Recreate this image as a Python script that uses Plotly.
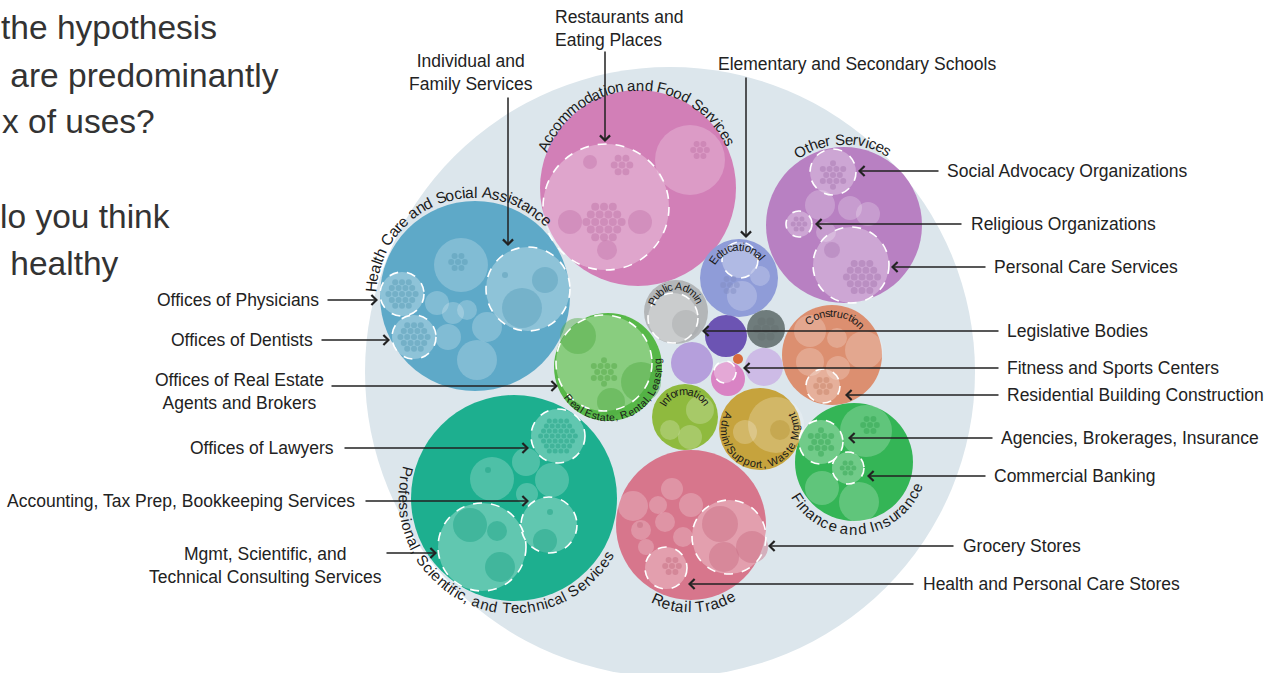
import math
import plotly.graph_objects as go

# ---------------- data ----------------
sector_names = ["Accommodation and Food Services", "Health Care and Social Assistance",
                "Professional, Scientific, and Technical Services", "Retail Trade",
                "Finance and Insurance", "Other Services", "Construction",
                "Real Estate, Rental, Leasing", "Public Admin", "Educational",
                "Manufacturing", "Utilities", "Arts, Entertainment", "Arts and Recreation",
                "Mining", "Wholesale", "Information", "Admin/Support, Waste Mgmt"]
sector_size = [98, 95, 103, 75, 59, 78, 50, 54, 32, 39, 21, 19, 21, 17, 5, 19, 33, 41]
sector_colors = ["#d27fb7", "#5ea9c8", "#1daf8f", "#d7768c", "#34b556", "#b880c2", "#dc8f70",
                 "#57b848", "#b3b6b8", "#8f9cd8", "#6c54b3", "#6f7c7c", "#b59fdc", "#d983c4",
                 "#d86a3c", "#cdbbe6", "#8fba3e", "#c6a33d"]
# layout (packing positions, px)
sector_cx = [638, 475, 514, 691, 854, 844, 832, 608, 676, 739, 726, 766, 692, 728, 738, 764, 685, 760]
sector_cy = [188, 296, 498, 525, 462, 225, 355, 367, 312, 278, 336, 329, 363, 379, 359, 367, 417, 429]

# highlighted sub-industries (dashed circles) : name, size
sub_names = ["Restaurants and Eating Places", "Individual and Family Services",
             "Offices of Physicians", "Offices of Dentists", "Offices of Real Estate Agents and Brokers",
             "Offices of Lawyers", "Accounting, Tax Prep, Bookkeeping Services",
             "Mgmt, Scientific, and Technical Consulting Services", "Elementary and Secondary Schools",
             "Social Advocacy Organizations", "Religious Organizations", "Personal Care Services",
             "Legislative Bodies", "Fitness and Sports Centers", "Residential Building Construction",
             "Agencies, Brokerages, Insurance", "Commercial Banking", "Grocery Stores",
             "Health and Personal Care Stores"]
sub_size = [63, 42, 22, 22, 48, 27, 28, 44, 18, 23, 13, 38, 25, 11, 17, 22, 16, 37, 21]
sub_cx = [606, 528, 402, 414, 604, 558, 549, 482, 740, 833, 799, 851, 673, 725, 823, 821, 848, 729, 666]
sub_cy = [207, 289, 294, 337, 363, 436, 525, 547, 260, 172, 224, 265, 318, 372, 386, 442, 468, 537, 568]

# other (non-highlighted) sub-industries : cx, cy, size
other_sub = [(690, 160, 35), (461, 265, 27), (437, 303, 12), (453, 313, 11), (467, 310, 10),
             (487, 327, 15), (477, 360, 20), (448, 337, 13), (492, 479, 22), (526, 462, 14),
             (552, 480, 17), (527, 494, 11), (820, 205, 15), (850, 208, 12), (868, 214, 12),
             (826, 232, 10), (864, 350, 19), (810, 331, 16), (810, 362, 14), (838, 368, 12),
             (837, 338, 10), (866, 431, 26), (822, 488, 17), (859, 502, 20), (633, 506, 15),
             (672, 489, 11), (658, 505, 9), (691, 505, 12), (641, 530, 10), (665, 522, 10),
             (683, 537, 10), (646, 547, 8), (742, 296, 15), (760, 276, 10), (700, 410, 14),
             (670, 430, 10), (690, 437, 12), (776, 425, 28), (745, 432, 12)]

# leader labels: text, text x, text y, anchor, arrow tail (x,y), arrow tip (x,y)
callouts = [
    ("Restaurants and<br>Eating Places", 553, 28, "left", (605, 50), (605, 142)),
    ("Individual and<br>Family Services", 471, 72, "center", (508, 96), (508, 246)),
    ("Elementary and Secondary Schools", 716, 64, "left", (746, 76), (746, 238)),
    ("Offices of Physicians", 321, 300, "right", (326, 300), (378, 300)),
    ("Offices of Dentists", 315, 340, "right", (320, 340), (390, 340)),
    ("Offices of Real Estate<br>Agents and Brokers", 239, 391, "center", (330, 386), (558, 386)),
    ("Offices of Lawyers", 336, 448, "right", (343, 448), (529, 448)),
    ("Accounting, Tax Prep, Bookkeeping Services", 357, 501, "right", (364, 501), (529, 501)),
    ("Mgmt, Scientific, and<br>Technical Consulting Services", 265, 565, "center", (385, 553), (437, 553)),
    ("Social Advocacy Organizations", 945, 171, "left", (940, 171), (858, 171)),
    ("Religious Organizations", 969, 224, "left", (963, 224), (815, 224)),
    ("Personal Care Services", 992, 267, "left", (987, 267), (891, 267)),
    ("Legislative Bodies", 1005, 331, "left", (1000, 331), (702, 331)),
    ("Fitness and Sports Centers", 1005, 368, "left", (1000, 368), (743, 368)),
    ("Residential Building Construction", 1005, 395, "left", (1000, 395), (845, 395)),
    ("Agencies, Brokerages, Insurance", 999, 438, "left", (994, 438), (848, 438)),
    ("Commercial Banking", 992, 476, "left", (987, 476), (867, 476)),
    ("Grocery Stores", 961, 546, "left", (955, 546), (768, 546)),
    ("Health and Personal Care Stores", 921, 584, "left", (915, 584), (688, 584)),
]

# curved sector labels: text, sector index, radius, mid angle, font size, mode
arc_labels = [
    ("Health Care and Social Assistance", 1, 104, 111, 15.5, "top"),
    ("Accommodation and Food Services", 0, 103, 92, 15, "top"),
    ("Other Services", 5, 86, 91, 15, "top"),
    ("Professional, Scientific, and Technical Services", 2, 110, 247, 15, "bottom"),
    ("Retail Trade", 3, 82, 272, 15.5, "bottom"),
    ("Finance and Insurance", 4, 67, 275, 15, "bottom"),
    ("Educational", 9, 31, 95, 11.5, "top"),
    ("Public Admin", 8, 26, 93, 11, "top"),
    ("Information", 16, 26, 91, 11, "top"),
    ("Construction", 6, 42, 85, 11, "top"),
    ("Admin/Support, Waste Mgmt", 17, 35, 270, 11, "bottom"),
    ("Real Estate, Rental, Leasing", 7, 50, 292, 10.5, "bottom"),
]

slide_text = [("the hypothesis", -1, 27), (" are predominantly", -1, 75), ("x of uses?", 0, 121),
              ("lo you think", -2, 216), (" healthy", -1, 263)]

# ---------------- figure ----------------
W, H = 1270, 673
FONT = "Liberation Sans, Arial, Helvetica, sans-serif"
shapes = []
ann = []


def circ(cx, cy, r, fill, opacity=1.0, line=None):
    shapes.append(dict(type="circle", xref="x", yref="y", x0=cx - r, x1=cx + r, y0=cy - r, y1=cy + r,
                       fillcolor=fill, opacity=opacity,
                       line=line if line else dict(width=0), layer="above"))


def darker(hexc, f=0.85):
    h = hexc.lstrip("#")
    r, g, b = int(h[0:2], 16), int(h[2:4], 16), int(h[4:6], 16)
    return "#%02x%02x%02x" % (int(r * f), int(g * f), int(b * f))


def cluster(cx, cy, R, r, color, op=0.35):
    # decorative honeycomb of tiny bubbles
    step = 2 * r + 0.8
    rows = int(R / (step * 0.866)) + 1
    for j in range(-rows, rows + 1):
        yy = cy + j * step * 0.866
        off = (step / 2) if j % 2 else 0
        cols = int(R / step) + 2
        for i in range(-cols, cols + 1):
            xx = cx + i * step + off
            if math.hypot(xx - cx, yy - cy) <= R - r:
                circ(xx, yy, r, color, op)


# background circle
circ(670, 372, 305, "#dce6ec")

# sectors
for i, n in enumerate(sector_names):
    circ(sector_cx[i], sector_cy[i], sector_size[i], sector_colors[i])

# non-highlighted sub-industries
for (x, y, r) in other_sub:
    circ(x, y, r, "white", 0.22)

# highlighted sub-industries
for i, n in enumerate(sub_names):
    circ(sub_cx[i], sub_cy[i], sub_size[i], "white", 0.3)

# decorative inner bubbles
deco = [
    (604, 222, 26, 4, 0), (622, 165, 14, 3.5, 0), (700, 150, 12, 3, 0),
    (402, 294, 17, 3, 1), (414, 337, 17, 3, 1), (505, 275, 9, 3, 1), (458, 262, 14, 3, 1),
    (558, 436, 21, 2.5, 2), (550, 512, 9, 3, 2), (488, 470, 8, 3, 2),
    (833, 175, 16, 3, 5), (799, 224, 9, 2.5, 5), (862, 277, 22, 3.5, 5),
    (823, 386, 12, 3, 6), (821, 442, 16, 3, 4), (848, 468, 11, 2.5, 4), (870, 425, 14, 3, 4),
    (604, 372, 16, 3, 7), (766, 329, 16, 4, 11), (730, 285, 10, 3, 9), (640, 525, 8, 3, 3),
    (672, 566, 12, 3, 3),
]
for (x, y, R, r, si) in deco:
    cluster(x, y, R, r, darker(sector_colors[si], 0.9), 0.45)

med = [(570, 222, 12, 0), (640, 222, 12, 0), (607, 250, 10, 0), (590, 162, 7, 0),
       (545, 280, 13, 1), (522, 308, 20, 1), (470, 525, 17, 2), (500, 567, 15, 2),
       (497, 531, 10, 2), (545, 541, 12, 2), (720, 524, 18, 3), (752, 547, 16, 3),
       (724, 557, 15, 3), (578, 336, 18, 7), (641, 382, 20, 7), (611, 402, 14, 7),
       (686, 324, 14, 8), (832, 250, 8, 5), (780, 430, 10, 17)]
for (x, y, r, si) in med:
    circ(x, y, r, darker(sector_colors[si], 0.93), 0.45)

# dashed outlines on top
for i, n in enumerate(sub_names):
    r = sub_size[i]
    shapes.append(dict(type="circle", xref="x", yref="y", x0=sub_cx[i] - r, x1=sub_cx[i] + r,
                       y0=sub_cy[i] - r, y1=sub_cy[i] + r, fillcolor="rgba(0,0,0,0)",
                       line=dict(color="white", width=1.6, dash="dash"), layer="above"))

# ---- curved labels ----
CW = {' ': 278, 'a': 556, 'b': 556, 'c': 500, 'd': 556, 'e': 556, 'f': 278, 'g': 556, 'h': 556,
      'i': 222, 'j': 222, 'k': 500, 'l': 222, 'm': 833, 'n': 556, 'o': 556, 'p': 556, 'q': 556,
      'r': 333, 's': 500, 't': 278, 'u': 556, 'v': 500, 'w': 722, 'x': 500, 'y': 500, 'z': 500,
      'A': 667, 'C': 722, 'E': 667, 'F': 611, 'H': 722, 'I': 278, 'L': 556, 'M': 833, 'O': 778,
      'P': 667, 'R': 722, 'S': 667, 'T': 611, 'W': 944, ',': 278, '/': 278}


def arc_text(text, cx, cy, R, mid, size, mode):
    widths = [CW.get(ch, 556) * size / 1000.0 * 1.02 for ch in text]
    total = sum(widths)
    half = math.degrees(total / 2.0 / R)
    s = 0.0
    for ch, w in zip(text, widths):
        sc = s + w / 2.0
        d = math.degrees(sc / R)
        if mode == "top":
            th = mid + half - d
            rot = 90 - th
        else:
            th = mid - half + d
            rot = 270 - th
        s += w
        if ch == ' ':
            continue
        t = math.radians(th)
        ann.append(dict(x=cx + R * math.cos(t), y=cy - R * math.sin(t), xref="x", yref="y",
                        text=ch, showarrow=False, textangle=rot, xanchor="center", yanchor="middle",
                        font=dict(family=FONT, size=size, color="#1a1a1a")))


for (txt, si, R, mid, fs, mode) in arc_labels:
    arc_text(txt, sector_cx[si], sector_cy[si], R, mid, fs, mode)

# ---- callouts ----
for (txt, tx, ty, anc, tail, tip) in callouts:
    ann.append(dict(x=tx, y=ty, xref="x", yref="y", text=txt, showarrow=False, xanchor=anc,
                    yanchor="middle", align="center" if anc == "center" else anc,
                    font=dict(family=FONT, size=17.5, color="#222222")))
    ann.append(dict(x=tip[0], y=tip[1], ax=tail[0], ay=tail[1], xref="x", yref="y", axref="x",
                    ayref="y", text="", showarrow=True, arrowhead=4, arrowsize=1.3, arrowwidth=1.5,
                    arrowcolor="#222222", standoff=0, startstandoff=0))

# ---- slide text (cropped) ----
for (txt, x, y) in slide_text:
    ann.append(dict(x=0, xshift=x, y=y, xref="x", yref="y", text=txt, showarrow=False,
                    xanchor="left", yanchor="middle",
                    font=dict(family=FONT, size=33.5, color="#333333")))

fig = go.Figure()
fig.add_trace(go.Scatter(x=[0, W], y=[0, H], mode="markers", marker=dict(opacity=0),
                         hoverinfo="skip", showlegend=False))
fig.update_layout(width=W, height=H, margin=dict(l=0, r=0, t=0, b=0),
                  paper_bgcolor="white", plot_bgcolor="white", shapes=shapes, annotations=ann,
                  showlegend=False,
                  xaxis=dict(range=[0, W], visible=False, fixedrange=True),
                  yaxis=dict(range=[H, 0], visible=False, fixedrange=True))
fig.write_html("out.html", config={"displayModeBar": False},
               post_script="document.body.style.margin='0';document.body.style.overflow='hidden';")
